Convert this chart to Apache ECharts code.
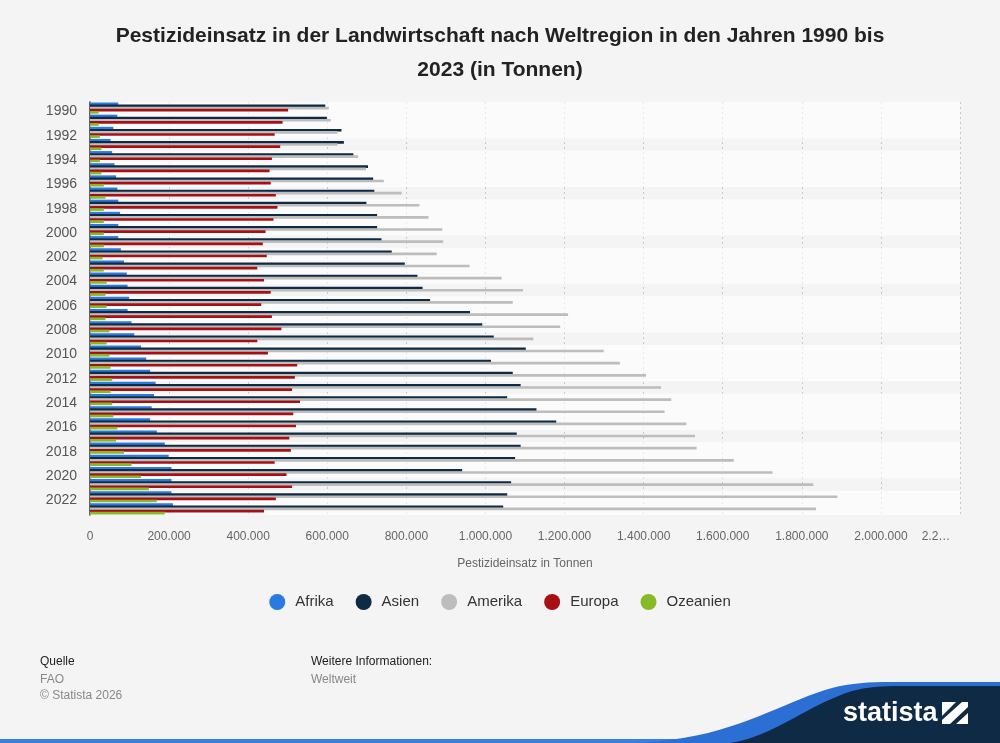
<!DOCTYPE html>
<html><head><meta charset="utf-8">
<script src="https://cdn.jsdelivr.net/npm/echarts@6/dist/echarts.min.js"></script>
<style>html,body{margin:0;padding:0;background:#f4f4f4}#c{width:1000px;height:743px}</style>
</head><body><div id="c"></div>
<script>
const years = ['1990','1991','1992','1993','1994','1995','1996','1997','1998','1999','2000','2001','2002','2003','2004','2005','2006','2007','2008','2009','2010','2011','2012','2013','2014','2015','2016','2017','2018','2019','2020','2021','2022','2023'];
// values in tonnes
const afrika = [71500,69000,59000,52000,56000,62000,66000,69000,71500,76000,71500,71500,78000,86000,93000,95000,99000,95000,105000,112000,129000,142000,152000,166000,162000,156000,152000,169000,189000,199000,206000,206000,206000,210000];
const asien = [595000,599000,636000,642000,666000,703000,716000,719000,699000,726000,726000,737000,763000,796000,828000,841000,860000,961000,992000,1021000,1102000,1014000,1069000,1089000,1055000,1129000,1179000,1079000,1089000,1075000,941000,1065000,1055000,1045000];
const amerika = [604000,609000,626000,626000,678000,698000,743000,788000,833000,856000,891000,893000,877000,960000,1041000,1095000,1069000,1209000,1189000,1121000,1299000,1340000,1406000,1444000,1470000,1453000,1508000,1530000,1534000,1628000,1726000,1829000,1890000,1836000];
const europa = [501000,487000,467000,481000,460000,454000,457000,470000,474000,464000,444000,437000,447000,423000,440000,457000,433000,460000,484000,423000,450000,524000,518000,511000,531000,514000,521000,504000,508000,467000,497000,511000,470000,440000];
const ozeanien = [22000,22000,25000,29000,25000,29000,35000,39000,35000,35000,35000,35000,32000,35000,42000,39000,42000,39000,49000,42000,49000,52000,56000,52000,56000,59000,69000,66000,86000,105000,129000,149000,169000,189000];
const seriesNames = ['Afrika','Asien','Amerika','Europa','Ozeanien'];
const seriesColors = ['#2a7ae0','#0f2a45','#bdbdbd','#a80f12','#86ba28'];
const bandPairs = [['1990','1992'],['1994','1996'],['1998','2000'],['2002','2004'],['2006','2008'],['2010','2012'],['2014','2016'],['2018','2020'],['2022','2023']];

const FONT = "'Liberation Sans', Arial, sans-serif";
function fmt(v){ return String(v).replace(/\B(?=(\d{3})+(?!\d))/g,'.'); }
// sample cubic bezier segments into polygon points (logo decoration)
function bez(p0,p1,p2,p3,n){const pts=[];for(let i=0;i<=n;i++){const t=i/n,u=1-t;pts.push([u*u*u*p0[0]+3*u*u*t*p1[0]+3*u*t*t*p2[0]+t*t*t*p3[0],u*u*u*p0[1]+3*u*u*t*p1[1]+3*u*t*t*p2[1]+t*t*t*p3[1]]);}return pts;}
const bluePts = [].concat(bez([630,743],[730,741],[780,702],[832,688],20), bez([832,688],[850,683],[870,682],[890,682],8), [[1000,682],[1000,743]]);
const navyPts = [].concat(bez([730,743],[775,736],[805,706],[852,691],20), bez([852,691],[866,687],[882,686],[900,686],8), [[1000,686],[1000,743]]);

const chart = echarts.init(document.getElementById('c'), null, {renderer:'canvas'});
const datas = [afrika, asien, amerika, europa, ozeanien];
const series = datas.map((d,i)=>{
  const s = {
    name: seriesNames[i], type:'bar', data:d,
    barCategoryGap:'8%', barGap:'-20%',
    itemStyle:{color:seriesColors[i]},
    emphasis:{disabled:true}
  };
  if(i===0){ s.markArea = {silent:true, itemStyle:{color:'rgba(255,255,255,0.6)'},
    data: bandPairs.map(p=>[{yAxis:p[0]},{yAxis:p[1]}])}; }
  return s;
});

chart.setOption({
  backgroundColor:'#f4f4f4',
  animation:false,
  textStyle:{fontFamily:FONT},
  title:{
    text:'Pestizideinsatz in der Landwirtschaft nach Weltregion in den Jahren 1990 bis\n2023 (in Tonnen)',
    left:'center', top:14,
    textStyle:{fontSize:21, fontWeight:'bold', color:'#222', lineHeight:34, fontFamily:FONT}
  },
  legend:{
    data:seriesNames, bottom:128, left:'center', icon:'circle',
    itemWidth:16, itemHeight:16, itemGap:22,
    textStyle:{fontSize:15, color:'#333', padding:[0,0,0,5], fontFamily:FONT}
  },
  grid:{left:90, right:40, top:102, bottom:228},
  xAxis:{
    type:'value', min:0, max:2200000, interval:200000,
    name:'Pestizideinsatz in Tonnen', nameLocation:'middle', nameGap:43,
    nameTextStyle:{fontSize:12, color:'#666', fontFamily:FONT},
    axisLine:{show:false}, axisTick:{show:false},
    axisLabel:{fontSize:12, color:'#666', margin:16,
      formatter:v=> v===2200000 ? '{r|2.2…}' : fmt(v),
      rich:{r:{fontSize:12, color:'#666', padding:[0,48,0,0]}}},
    splitLine:{show:true, lineStyle:{color:'#c8c8c8', type:[2,3], width:1}}
  },
  yAxis:{
    type:'category', data:years, inverse:true,
    axisLine:{show:true, lineStyle:{color:'#333', width:1.5}},
    axisTick:{show:false},
    axisLabel:{interval:1, margin:13, formatter:v=>'{y|'+v+'}',
      rich:{y:{fontSize:14, color:'#555', fontFamily:FONT, padding:[7,0,0,0]}}},
    splitLine:{show:false}
  },
  series: series,
  graphic:[
    {type:'text', x:40, y:656, style:{text:'Quelle', fontSize:12, fill:'#222', fontFamily:FONT}},
    {type:'text', x:40, y:674, style:{text:'FAO', fontSize:12, fill:'#888', fontFamily:FONT}},
    {type:'text', x:40, y:690, style:{text:'© Statista 2026', fontSize:12, fill:'#888', fontFamily:FONT}},
    {type:'text', x:311, y:656, style:{text:'Weitere Informationen:', fontSize:12, fill:'#222', fontFamily:FONT}},
    {type:'text', x:311, y:674, style:{text:'Weltweit', fontSize:12, fill:'#888', fontFamily:FONT}},
    {type:'rect', shape:{x:0,y:739,width:1000,height:4}, style:{fill:'#3a7fd9'}, z:10},
    {type:'polygon', shape:{points:bluePts}, style:{fill:'#2b6fd4'}, z:11},
    {type:'polygon', shape:{points:navyPts}, style:{fill:'#0f2a44'}, z:12},
    {type:'text', x:843, y:700, style:{text:'statista', fontSize:27, fontWeight:'bold', fill:'#fff', fontFamily:FONT}, z:13},
    {type:'rect', shape:{x:942,y:702,width:26,height:22}, style:{fill:'#fff'}, z:13},
    {type:'polygon', shape:{points:[[950,724],[968,707],[968,713],[956,724]]}, style:{fill:'#0f2a44'}, z:14},
    {type:'polygon', shape:{points:[[942,716],[956,702],[962,702],[942,720]]}, style:{fill:'#0f2a44'}, z:14}
  ]
});
</script></body></html>
